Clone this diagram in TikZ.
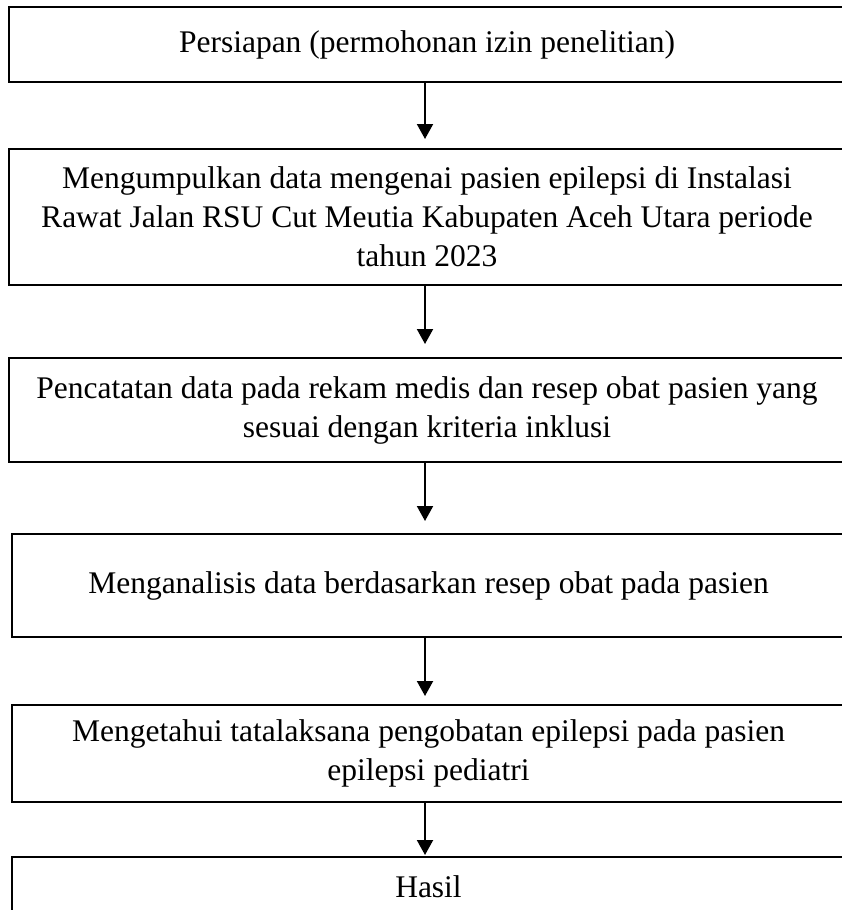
\documentclass[tikz,border=0pt]{standalone}
\usepackage{fontspec}
\setmainfont{Liberation Serif}
\usetikzlibrary{arrows.meta}
\begin{document}
\begin{tikzpicture}[x=1pt,y=-1pt,
  stagebox/.style={draw=black, line width=2pt, rectangle, inner sep=0pt,
    align=center, font=\fontsize{31.5}{39}\selectfont},
  flow/.style={line width=2pt, -{Triangle[width=16pt,length=15pt]}}]
\useasboundingbox (0,0) rectangle (842,910);
\begin{scope}
\clip (0,0) rectangle (842,910);
\node[stagebox, minimum width=836pt, minimum height=75pt] (b1) at (427,44.5)
  {Persiapan (permohonan izin penelitian)};
\node[stagebox, minimum width=836pt, minimum height=136pt] (b2) at (427,217)
  {Mengumpulkan data mengenai pasien epilepsi di Instalasi\\
   Rawat Jalan RSU Cut Meutia Kabupaten Aceh Utara periode\\
   tahun 2023};
\node[stagebox, minimum width=836pt, minimum height=104pt] (b3) at (427,410)
  {Pencatatan data pada rekam medis dan resep obat pasien yang\\
   sesuai dengan kriteria inklusi};
\node[stagebox, minimum width=833pt, minimum height=103pt] (b4) at (428.5,585.5)
  {Menganalisis data berdasarkan resep obat pada pasien};
\node[stagebox, minimum width=833pt, minimum height=97pt] (b5) at (428.5,753.5)
  {Mengetahui tatalaksana pengobatan epilepsi pada pasien\\
   epilepsi pediatri};
\node[stagebox, minimum width=833pt, minimum height=60pt] (b6) at (428.5,887)
  {Hasil};
\end{scope}
\coordinate (ax) at (425,0);
\draw[flow, shorten >=9pt]  (b1.south -| ax) -- (b2.north -| ax);
\draw[flow, shorten >=13pt] (b2.south -| ax) -- (b3.north -| ax);
\draw[flow, shorten >=12pt] (b3.south -| ax) -- (b4.north -| ax);
\draw[flow, shorten >=8pt]  (b4.south -| ax) -- (b5.north -| ax);
\draw[flow, shorten >=1pt]  (b5.south -| ax) -- (b6.north -| ax);
\end{tikzpicture}
\end{document}
